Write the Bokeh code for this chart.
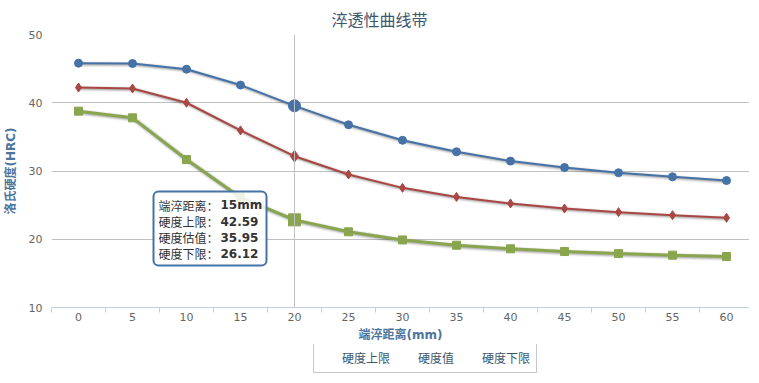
from bokeh.plotting import figure
from bokeh.layouts import column
from bokeh.models import (Range1d, FixedTicker, Span, BoxAnnotation, Legend, LegendItem,
                          ColumnDataSource)
from bokeh.core.properties import value
from bokeh.embed import file_html
from bokeh.resources import INLINE

# ---------------- data ----------------
distance = [0, 5, 10, 15, 20, 25, 30, 35, 40, 45, 50, 55, 60]
upper = [45.8, 45.75, 44.92, 42.59, 39.55, 36.77, 34.5, 32.82, 31.45, 30.51, 29.74, 29.15, 28.6]
estimate = [42.23, 42.09, 40.0, 35.95, 32.17, 29.49, 27.53, 26.2, 25.24, 24.5, 23.97, 23.53, 23.14]
lower = [38.77, 37.79, 31.68, 26.12, 22.84, 21.09, 19.9, 19.13, 18.6, 18.2, 17.9, 17.67, 17.47]
y_ticks = [10, 20, 30, 40, 50]
series_names = ["硬度上限", "硬度值", "硬度下限"]
title_text = "淬透性曲线带"
x_title = "端淬距离(mm)"
y_title = "洛氏硬度(HRC)"
hover_x = 20
tip_index = 3
tip_keys = ["端淬距离：", "硬度上限：", "硬度估值：", "硬度下限："]
tip_vals = ["%dmm" % distance[tip_index], "%.2f" % upper[tip_index],
            "%.2f" % estimate[tip_index], "%.2f" % lower[tip_index]]

FONT = '"DejaVu Sans", "Noto Sans CJK SC"'
CJK = '"Noto Sans CJK SC", "DejaVu Sans"'

W = 743
LEFT = 45
FRAME_W, FRAME_H = 698, 273
step = distance[1] - distance[0]
px_per_x = 54.0 / step
x0 = distance[0] - step / 2
x1 = x0 + FRAME_W / px_per_x
px_per_y = FRAME_H / (y_ticks[-1] - y_ticks[0])

p = figure(width=W, height=344, frame_width=FRAME_W, frame_height=FRAME_H,
           output_backend="svg", toolbar_location=None,
           x_range=Range1d(x0, x1), y_range=Range1d(y_ticks[0], y_ticks[-1]),
           min_border_left=LEFT, min_border_right=0, min_border_top=27, min_border_bottom=0)
p.outline_line_color = None
p.background_fill_color = "white"
p.border_fill_color = "white"

# title
p.title.text = title_text
p.title.text_font = CJK
p.title.text_font_size = "16px"
p.title.text_font_style = "normal"
p.title.text_color = "#3E576F"
p.title.align = "left"
p.title.offset = 280
p.title.standoff = 8

# grids
p.xgrid.visible = False
p.ygrid.ticker = FixedTicker(ticks=y_ticks[1:])
p.ygrid.grid_line_color = "#C0C0C0"
p.ygrid.grid_line_width = 1

# x axis
minor = [d - step / 2 for d in distance] + [distance[-1] + step / 2]
xa = p.xaxis[0]
xa.ticker = FixedTicker(ticks=distance, minor_ticks=minor)
xa.axis_line_color = "#C0D0E0"
xa.major_tick_line_color = None
xa.major_tick_out = 0
xa.major_tick_in = 0
xa.minor_tick_line_color = "#C0D0E0"
xa.minor_tick_out = 5
xa.minor_tick_in = 0
xa.major_label_text_font = FONT
xa.major_label_text_font_size = "11px"
xa.major_label_text_color = "#666666"
xa.major_label_standoff = 0
xa.axis_label = x_title
xa.axis_label_text_font = FONT
xa.axis_label_text_font_size = "12px"
xa.axis_label_text_font_style = "bold"
xa.axis_label_text_color = "#4D759E"
xa.axis_label_standoff = 4

# y axis
ya = p.yaxis[0]
ya.ticker = FixedTicker(ticks=y_ticks)
ya.axis_line_color = None
ya.major_tick_line_color = None
ya.minor_tick_line_color = None
ya.major_tick_out = 0
ya.major_label_text_font = FONT
ya.major_label_text_font_size = "11px"
ya.major_label_text_color = "#666666"
ya.major_label_standoff = 9
ya.axis_label = y_title
ya.axis_label_text_font = FONT
ya.axis_label_text_font_size = "12px"
ya.axis_label_text_font_style = "bold"
ya.axis_label_text_color = "#4D759E"
ya.axis_label_standoff = 8

# crosshair
p.add_layout(Span(location=hover_x, dimension="height", line_color="#C0C0C0", line_width=1))

colors = ["#4572A7", "#AA4643", "#89A54E"]
markers = ["circle", "diamond", "square"]
sizes = [8, 9, 8]
hover_sizes = [12, 12, 12]
widths = [2, 2, 3]
data = [upper, estimate, lower]

# legend lives in a thin strip figure below the chart
p2 = figure(width=W, height=32, output_backend="svg", toolbar_location=None,
            x_range=Range1d(0, 1), y_range=Range1d(0, 1),
            x_axis_location=None, y_axis_location=None,
            min_border_left=0, min_border_right=0, min_border_top=0, min_border_bottom=0)
p2.outline_line_color = None
p2.xgrid.visible = False
p2.ygrid.visible = False
p2.background_fill_color = "white"
p2.border_fill_color = "white"

dx = 1.0 / px_per_x
dy = 1.0 / px_per_y
items = []
for name, ys, c, m, s, hs, lw in zip(series_names, data, colors, markers, sizes, hover_sizes, widths):
    sx = [d + dx for d in distance]
    sy = [v - dy for v in ys]
    for extra, a in ((4, 0.05), (2, 0.1), (0, 0.15)):
        p.line(sx, sy, line_color="black", line_alpha=a, line_width=lw + extra, line_join="round")
    p.line(distance, ys, line_color=c, line_width=lw, line_join="round")
    p.scatter(distance, ys, marker=m, size=s, fill_color=c, line_color=c)
    hi = distance.index(hover_x)
    p.scatter([distance[hi]], [ys[hi]], marker=m, size=hs, fill_color=c, line_color=c)
    # legend swatches (no data points drawn in the strip)
    ln2 = p2.line(x=[], y=[], line_color=c, line_width=lw)
    sc2 = p2.scatter(x=[], y=[], marker=m, size=s, fill_color=c, line_color=c)
    items.append(LegendItem(label=name, renderers=[ln2, sc2]))

# tooltip box anchored at the hovered point (distance 15, lower value)
ax, ay = distance[tip_index], lower[tip_index]
box = BoxAnnotation(left=ax - 87 * dx, right=ax + 26 * dx,
                    top=ay + 6 * dy, bottom=ay - 68 * dy,
                    fill_color="white", fill_alpha=0.85,
                    line_color="#4572A7", line_alpha=1, line_width=2, border_radius=5,
                    level="annotation")
p.add_layout(box)
line_offsets = [7.7, 23.7, 39.7, 55.7]
src = ColumnDataSource(dict(
    kx=[ax - 82 * dx] * 4,
    vx=[ax - 20 * dx] * 4,
    y=[ay - o * dy for o in line_offsets],
    k=tip_keys, v=tip_vals))
p.text(x="kx", y="y", text="k", source=src, text_font=value(CJK), text_font_size="12px",
       text_color="#333333", text_baseline="middle", text_align="left", level="overlay")
p.text(x="vx", y="y", text="v", source=src, text_font=value(FONT), text_font_size="12px",
       text_font_style="bold", text_color="#333333", text_baseline="middle", text_align="left",
       level="overlay")

legend = Legend(items=items, orientation="horizontal", location=(262, 3),
                border_line_color="#909090", border_line_width=1,
                background_fill_color="white", background_fill_alpha=1,
                label_text_font=CJK, label_text_font_size="12px",
                label_text_color="#3E576F", padding=6, spacing=6, margin=0,
                glyph_width=18, glyph_height=16, label_height=16, label_standoff=4)
p2.add_layout(legend)

open("out.html", "w").write(file_html(column(p, p2), INLINE))
